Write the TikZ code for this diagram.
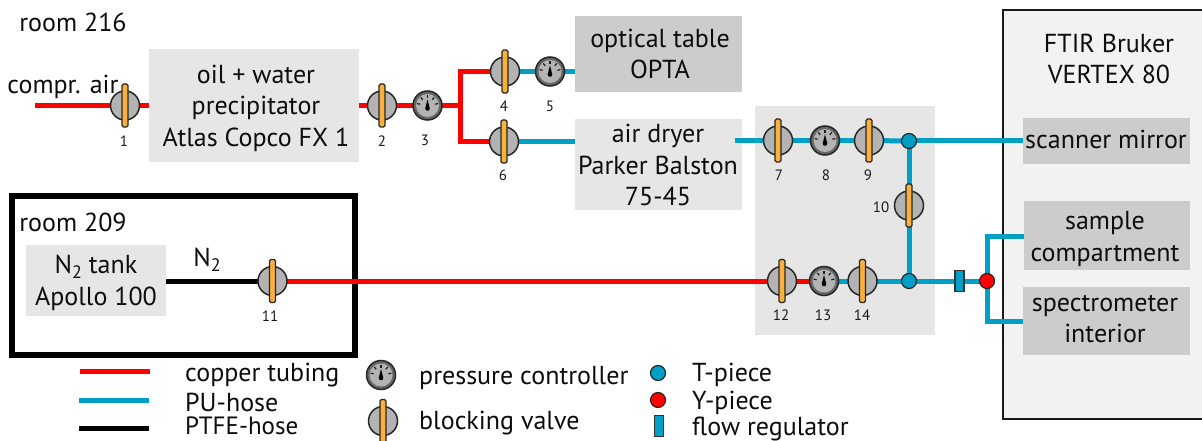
\documentclass[tikz,border=0pt]{standalone}
\usepackage{fontspec}
\setmainfont{PT Sans}
\usetikzlibrary{backgrounds,calc}
\definecolor{pured}{HTML}{FF0000}
\definecolor{publue}{HTML}{00A0C6}
\definecolor{valveorange}{HTML}{FBB03B}
\definecolor{valvegray}{HTML}{B3B3B3}
\definecolor{boxlight}{HTML}{E6E6E6}
\definecolor{boxdark}{HTML}{CCCCCC}
\definecolor{boxpale}{HTML}{F2F2F2}
\newcommand{\subtwo}{\raisebox{-4.5pt}{\fontsize{18}{18}\selectfont 2}}
\tikzset{
  x=1pt,y=-1pt,
  lbl/.style={inner sep=0pt,font=\fontsize{26}{31.5}\selectfont,align=center,text=black!95},
  lgd/.style={inner sep=0pt,anchor=west,font=\fontsize{26}{31.5}\selectfont,text=black!95},
  num/.style={inner sep=0pt,font=\fontsize{15}{17}\selectfont,text=black!90},
  graybox/.style={draw=none,inner sep=0pt,anchor=north west},
  redpipe/.style={draw=pured,line width=5pt},
  bluepipe/.style={draw=publue,line width=5pt},
  blackpipe/.style={draw=black,line width=5pt},
  valvebody/.style={circle,draw=black!85,line width=1.5pt,fill=valvegray,minimum size=29pt,inner sep=0pt},
  valvebar/.style={draw=black!85,line width=1.2pt,fill=valveorange,rounded corners=1.5pt},
  gaugebody/.style={circle,draw=black!85,line width=1.5pt,fill=black!60,minimum size=29pt,inner sep=0pt},
  tpiece/.style={circle,draw=black!85,line width=1.2pt,fill=publue,minimum size=15pt,inner sep=0pt},
  ypiece/.style={circle,draw=black!85,line width=1.2pt,fill=pured,minimum size=15pt,inner sep=0pt},
  regulator/.style={rectangle,draw=black!80,line width=1.2pt,fill=publue,minimum width=9pt,minimum height=21pt,inner sep=0pt},
}
\newcommand{\myvalve}[2]{%
  \node[valvebody] (#1) at (#2) {};
  \draw[valvebar] ($(#1.center)+(-3,-21.5)$) rectangle ($(#1.center)+(3,21.5)$);
}
\newcommand{\mygauge}[2]{%
  \node[gaugebody] (#1) at (#2) {};
  \fill[valvegray] (#1.center) circle[radius=11.5pt];
  \foreach \a in {10,50,90,130,170}{
    \draw[black!90,line width=1.2pt] ($(#1.center)+({10.5*cos(\a)},{-10.5*sin(\a)})$) -- ($(#1.center)+({7.5*cos(\a)},{-7.5*sin(\a)})$);
  }
  \fill[black] ($(#1.center)+(-2.3,3)$) -- ($(#1.center)+(0,-6)$) -- ($(#1.center)+(2.3,3)$) arc[start angle=0,end angle=-180,radius=2.3pt] -- cycle;
}
\begin{document}
\begin{tikzpicture}
\useasboundingbox (0,0) rectangle (1202,441);
% valves and gauges
\myvalve{v1}{125,105.5}
\myvalve{v2}{382,105.5}
\mygauge{g3}{427.5,105.5}
\myvalve{v4}{505,71.5}
\mygauge{g5}{550,71.5}
\myvalve{v6}{504,141.5}
\myvalve{v7}{778,140.5}
\mygauge{g8}{825,140.5}
\myvalve{v9}{869,140.5}
\node[tpiece] (t1) at (909,141) {};
\myvalve{v10}{909,205.5}
\node[tpiece] (t2) at (909,281) {};
\myvalve{v11}{272.5,281}
\myvalve{v12}{782,281}
\mygauge{g13}{824,281}
\myvalve{v14}{862.5,281}
\node[regulator] (reg) at (959.5,281) {};
\node[ypiece] (yp) at (987,281) {};
\coordinate (airin) at (35,105.5);
\coordinate (split) at (460,105.5);
\coordinate (dryerout) at (735,140.5);
\begin{pgfonlayer}{background}
  % boxes
  \node[graybox,fill=boxlight,minimum width=210pt,minimum height=113pt] (prec) at (149,49) {};
  \node[graybox,fill=boxdark,minimum width=167pt,minimum height=76pt] (opta) at (575,16) {};
  \node[graybox,fill=boxlight,minimum width=167pt,minimum height=91pt] (dryer) at (575,119) {};
  \node[graybox,fill=boxlight,minimum width=180pt,minimum height=229pt] (manifold) at (755,106) {};
  \node[graybox,fill=boxlight,minimum width=140pt,minimum height=71pt] (tank) at (26,245) {};
  \draw[black,line width=6pt] (12,196) rectangle (354.5,355);
  \draw[black!90,line width=2.5pt,fill=boxpale] (1003,10) rectangle (1206,419);
  \node[graybox,fill=boxdark,minimum width=167pt,minimum height=46pt] (scan) at (1023,118) {};
  \node[graybox,fill=boxdark,minimum width=166pt,minimum height=69pt] (sample) at (1024,201) {};
  \node[graybox,fill=boxdark,minimum width=167pt,minimum height=68pt] (spec) at (1023,287) {};
  % connectors
  \draw[redpipe] (airin) -- (v1.center);
  \draw[redpipe] (v1.center) -- (prec.west |- v1.center);
  \draw[redpipe] (prec.east |- v2.center) -- (v2.center);
  \draw[redpipe] (v2.center) -- (g3.center);
  \draw[redpipe] (g3.center) -- (split);
  \draw[redpipe] (v4.center) -| (split) |- (v6.center);
  \draw[bluepipe] (v4.center) -- (g5.center);
  \draw[bluepipe] (g5.center) -- (opta.west |- g5.center);
  \draw[bluepipe] (v6.center) -- (dryer.west |- v6.center);
  \draw[bluepipe] (dryerout) -- (v7.center);
  \draw[bluepipe] (v7.center) -- (g8.center);
  \draw[bluepipe] (g8.center) -- (v9.center);
  \draw[bluepipe] (v9.center) -- (t1.center);
  \draw[bluepipe] (t1.center) -- (scan.west |- t1.center);
  \draw[bluepipe] (t1.center) -- (v10.center);
  \draw[bluepipe] (v10.center) -- (t2.center);
  \draw[blackpipe] (tank.east |- v11.center) -- (v11.center);
  \draw[redpipe] (v11.center) -- (v12.center);
  \draw[redpipe] (v12.center) -- (g13.center);
  \draw[bluepipe] (g13.center) -- (v14.center);
  \draw[bluepipe] (v14.center) -- (t2.center);
  \draw[bluepipe] (t2.center) -- (reg.center);
  \draw[bluepipe] (reg.center) -- (yp.center);
  \draw[bluepipe] (yp.center) |- (sample.west |- 0,236.5);
  \draw[bluepipe] (yp.center) |- (spec.west |- 0,321);
\end{pgfonlayer}
% box texts
\node[lbl] (tprec) at (256,108) {oil + water\\precipitator\\Atlas Copco FX 1};
\node[lbl] (topta) at (660,54) {optical table\\OPTA};
\node[lbl] (tdryer) at (658,165) {air dryer\\Parker Balston\\75-45};
\node[lbl] (ttank) at (96,283) {N\subtwo{} tank\\Apollo 100};
\node[lbl] (tftir) at (1109,59) {FTIR Bruker\\VERTEX 80};
\node[lbl] (tscan) at (1106,139) {scanner mirror};
\node[lbl] (tsample) at (1105,239) {sample\\compartment};
\node[lbl] (tspec) at (1105,319) {spectrometer\\interior};
\node[lbl] (troom1) at (73,22) {room 216};
\node[lbl] (tair) at (63,87) {compr. air};
\node[lbl] (troom2) at (73,222) {room 209};
\node[lbl] (tn2) at (207,260) {N\subtwo};
% numbers
\node[num] (n1) at (124,141) {1};
\node[num] (n2) at (382,141) {2};
\node[num] (n3) at (425,140) {3};
\node[num] (n4) at (504,106) {4};
\node[num] (n5) at (550,106) {5};
\node[num] (n6) at (503,175) {6};
\node[num] (n7) at (779,175) {7};
\node[num] (n8) at (826,175) {8};
\node[num] (n9) at (868,175) {9};
\node[num] (n10) at (881,207) {10};
\node[num] (n11) at (270,316) {11};
\node[num] (n12) at (781,315) {12};
\node[num] (n13) at (823,315) {13};
\node[num] (n14) at (862,315) {14};
% legend
\coordinate (lr1) at (80,371.5); \coordinate (lr2) at (150,371.5);
\coordinate (lb1) at (79,400); \coordinate (lb2) at (149,400);
\coordinate (lk1) at (79,428); \coordinate (lk2) at (149,428);
\draw[redpipe] (lr1) -- (lr2);
\draw[bluepipe] (lb1) -- (lb2);
\draw[blackpipe] (lk1) -- (lk2);
\node[lgd] (lt1) at (185,375) {copper tubing};
\node[lgd] (lt2) at (185,402) {PU-hose};
\node[lgd,font=\fontsize{25}{30}\selectfont] (lt3) at (185,426) {PTFE-hose};
\mygauge{lg}{381,375}
\myvalve{lv}{383,421}
\node[lgd] (lt4) at (419,378) {pressure controller};
\node[lgd] (lt5) at (419,423) {blocking valve};
\node[tpiece] (lT) at (658,373) {};
\node[ypiece] (lY) at (658,400) {};
\node[regulator] (lR) at (659,426) {};
\node[lgd] (lt6) at (692,375) {T-piece};
\node[lgd] (lt7) at (692,403) {Y-piece};
\node[lgd] (lt8) at (692,429) {flow regulator};
\end{tikzpicture}
\end{document}
